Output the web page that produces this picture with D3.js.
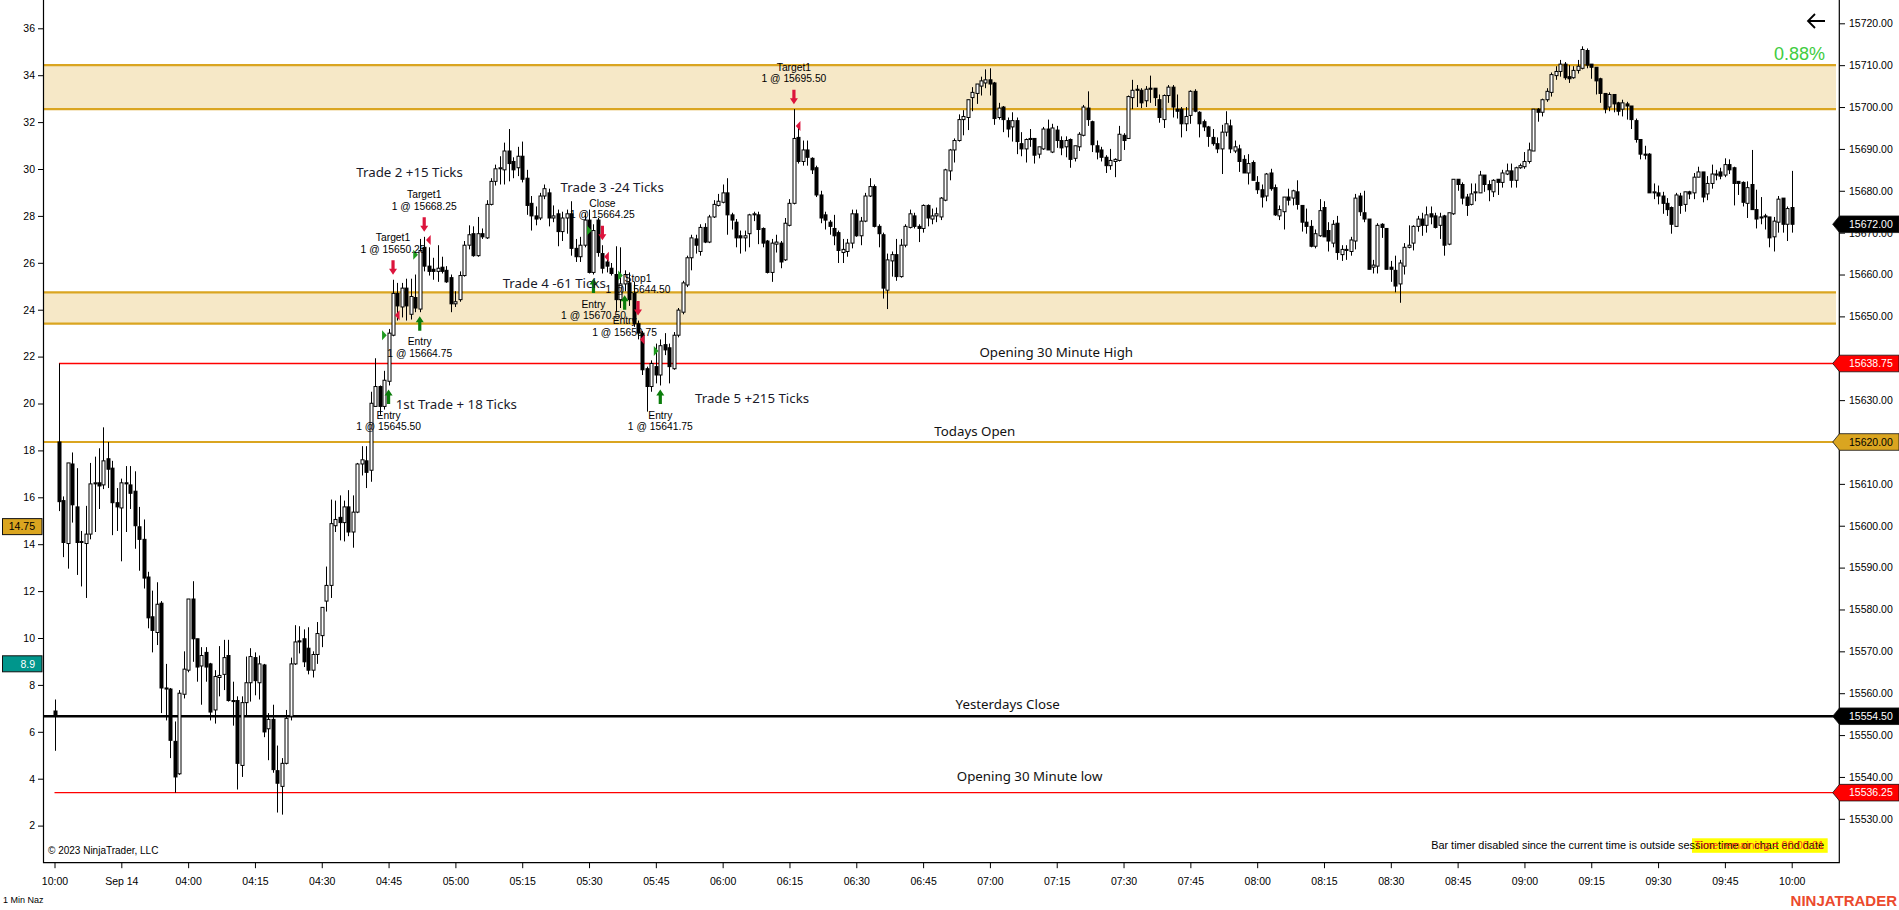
<!DOCTYPE html>
<html><head><meta charset="utf-8">
<script src="https://cdn.jsdelivr.net/npm/d3@7/dist/d3.min.js"></script>
<style>body{margin:0;background:#fff;overflow:hidden}svg{display:block}</style>
</head><body>
<svg id="c" width="1899" height="910"></svg>
<script>
// ---------------- DATA ----------------
const timeLabels = ["10:00","Sep 14","04:00","04:15","04:30","04:45","05:00","05:15","05:30","05:45","06:00","06:15","06:30","06:45","07:00","07:15","07:30","07:45","08:00","08:15","08:30","08:45","09:00","09:15","09:30","09:45","10:00"];
const timeTickBars = [0,15,30,45,60,75,90,105,120,135,150,165,180,195,210,225,240,255,270,285,300,315,330,345,360,375,390];
const priceTicks = [15530,15540,15550,15560,15570,15580,15590,15600,15610,15620,15630,15640,15650,15660,15670,15680,15690,15700,15710,15720];
const leftTicks = [2,4,6,8,10,12,14,16,18,20,22,24,26,28,30,32,34,36];

const opens = [
15555.75,15620,15606,15595.75,15614.75,15604.5,15596.25,15595.75,15598,15610,
15610.25,15609.75,15616,15613.75,15605.5,15604.25,15610.25,15609.75,15608.25,15599.75,
15596.75,15587.75,15578.25,15574.5,15581.5,15561.25,15561,15548.5,15540.75,15559.75,
15565.5,15582.5,15573,15566.5,15569.75,15567,15556,15563.75,15564.5,15569,
15558.25,15558.25,15542.75,15557.75,15562.5,15568.5,15562.5,15566.75,15551.5,15553.75,
15541.5,15537.75,15543.25,15554.5,15567,15572.5,15573,15570.75,15565.5,15569.25,
15573.75,15582,15585.75,15600,15602,15600.75,15604.5,15598.5,15603.25,15614.75,
15615.5,15613.25,15628.5,15633.25,15628.5,15634.5,15645.5,15655.5,15652.25,15656.75,
15650.5,15654.5,15651.75,15666.5,15662,15661.25,15660.75,15661.75,15661,15659.25,
15653,15654,15659.75,15667,15669.75,15664.5,15669.75,15668.75,15676.75,15682.25,
15685.25,15685,15689.5,15687,15685.5,15688.25,15683,15677,15674,15673.5,
15678.75,15679.5,15673.5,15674.5,15670.25,15673.5,15674.5,15666.25,15664.25,15667,
15673,15660.5,15673,15665,15663,15661.5,15660,15654,15657.75,15658,
15655.5,15648.25,15646,15637.5,15633.25,15638,15636,15643.25,15642.5,15637.5,
15645.5,15651,15657.5,15664,15668.5,15665.5,15671.25,15667.75,15673.75,15676.5,
15677.25,15679.5,15674.25,15672.5,15669.25,15668.75,15669.75,15674.25,15674.25,15671,
15668,15660.5,15667.25,15667.5,15663.5,15671.75,15677,15692.75,15687,15689.75,
15687.75,15685.5,15679,15674.25,15672.5,15671,15670,15665.25,15665.5,15667.5,
15674.5,15669.25,15672.75,15678.75,15681,15671.5,15669.5,15656.25,15663.25,15664.75,
15659.5,15667,15671.25,15674,15671.5,15671,15676.5,15673.25,15674,15673.75,
15677.75,15684.75,15689.75,15692,15697,15697.5,15702.25,15703.25,15705,15705.75,
15706.5,15705.75,15697.5,15700,15696.75,15695.25,15696.75,15691.25,15690,15692.5,
15692.5,15688.75,15690,15694.75,15689.25,15694.5,15692,15690.5,15692.25,15687.75,
15690.5,15693.25,15699.75,15696.5,15690.75,15689.75,15688,15686,15687,15687.25,
15693.25,15692.5,15702.25,15704.25,15704,15701.5,15704.5,15704.5,15701.75,15697,
15702.75,15704.75,15699.5,15699.5,15696,15698,15703.75,15698.75,15696.5,15695.25,
15692.75,15691.25,15690,15694,15695.5,15689.5,15690,15687.5,15684.25,15686.75,
15682,15680.25,15678.75,15684.25,15680.75,15674,15675,15678.5,15678.25,15679.75,
15676.5,15672.5,15671.5,15666.75,15669.25,15676,15670.5,15667.5,15672.25,15664.75,
15665.75,15665.5,15668,15678.75,15674.75,15673.25,15661.75,15662,15672,15671,
15661.75,15661,15657.75,15662,15666.5,15667.5,15671.5,15673.25,15671.75,15674.5,
15674,15671.75,15674,15667.25,15674.5,15682.75,15681.5,15678.5,15676.75,15679.5,
15679.5,15683.75,15681.5,15679.75,15682.75,15682,15684,15684.75,15682.5,15685.5,
15685.75,15687,15689.5,15699.5,15698.75,15701.75,15703.5,15707.5,15708.5,15710.25,
15707.25,15707,15708.75,15709.25,15713.5,15710.25,15709.5,15706.75,15703.25,15700,
15703,15701,15699.5,15700.75,15700.25,15696.75,15692.25,15688.75,15688.75,15679.5,
15679.5,15678.75,15677,15676,15671.5,15678.75,15676.75,15679.75,15679.5,15683.25,
15684.5,15679.25,15681.75,15683.75,15684.5,15683.75,15686.25,15685.5,15682.25,15682,
15677,15681.5,15675.5,15673.75,15674,15673.75,15669,15672.5,15678.25,15672,
15676];
const highs = [
15558.5,15638.75,15607,15615,15617.5,15613.75,15598.75,15604.75,15615,15616.5,
15618.5,15623.5,15620,15615.5,15609,15611.25,15614.25,15614.25,15613,15604.5,
15601.5,15589,15584.5,15586.5,15582,15567,15561.25,15553.25,15560.75,15570,
15582.5,15586.75,15573,15571,15571,15567.25,15565.5,15571.25,15572.75,15572.75,
15562.75,15559.25,15559.25,15568.75,15570.75,15569.75,15569,15567,15555.25,15557.25,
15547.5,15544.5,15556,15568.5,15576.25,15576,15575.25,15575.75,15570,15577,
15580.5,15590.25,15606.25,15606,15607.25,15606,15608.5,15607.25,15615,15619,
15619,15632,15640,15633.5,15637,15647,15658.75,15658,15658,15659,
15659,15660,15668.5,15669,15666.5,15664,15667,15664.25,15662,15660,
15656,15660.75,15668,15671.75,15671.5,15673.75,15671,15677.75,15683,15686.25,
15688.25,15691.5,15694.75,15688,15690.5,15691.75,15685,15678.75,15676.25,15679.5,
15681.5,15680.5,15676.5,15675.5,15675,15675.5,15677.5,15668.5,15669,15674.5,
15675.5,15672,15673.5,15667,15664,15662.75,15666.75,15666.5,15661,15660.5,
15658.25,15649,15646.5,15638,15639.5,15643.5,15644.5,15646,15643.5,15646.25,
15652,15658.5,15664.5,15669.5,15669.5,15672,15672.25,15674.25,15677.75,15679.25,
15681.5,15683,15674.75,15673.25,15670.5,15670.5,15674.5,15675,15675,15671.25,
15668.25,15668.5,15669.5,15668,15673.5,15678,15699.5,15695.5,15692,15692,
15688,15686,15680,15675,15673,15674.25,15670.5,15668.5,15668.5,15675.5,
15675.5,15673.75,15679.5,15683,15681.5,15672,15670,15665,15665.5,15668.5,
15668.5,15672,15675.5,15674.75,15672,15676.75,15676.75,15675.75,15676,15678.5,
15685.25,15690,15692.5,15698.25,15699.25,15701.75,15704.75,15705.5,15707.25,15709,
15709.25,15706,15701,15700.25,15697.5,15698.75,15697.5,15694,15692.5,15694.75,
15692.5,15690.5,15695.25,15697,15696,15695.5,15693,15693,15692.5,15690.75,
15694,15700.5,15703.75,15696.75,15692,15690.5,15688.5,15690,15687.75,15695.5,
15693.75,15702.75,15706.5,15705.25,15704.5,15705,15707.5,15704.5,15703,15703,
15705.25,15705.25,15703,15700,15700,15704,15704.25,15699,15697,15695.5,
15694.75,15692.75,15695.75,15699,15697,15692,15691,15688.5,15688.75,15687.25,
15683.5,15681.5,15684.25,15685.25,15681.5,15676.5,15678.5,15680.5,15680.25,15682.5,
15676.5,15675.75,15673,15670.75,15678,15677.5,15672.5,15673,15674,15667,
15667,15669,15679.25,15679.5,15680,15673.25,15663.5,15672.25,15672.25,15671,
15663.25,15664.5,15663.5,15667.5,15671.75,15671.75,15674,15674.75,15676.25,15676.25,
15674.75,15674.75,15674.25,15674.75,15682.75,15682.75,15682,15679.25,15681.75,15681.75,
15684.75,15683.75,15682.5,15682.75,15682.75,15685,15686.5,15686.5,15685.75,15686.5,
15689.25,15691.5,15699.5,15699.75,15702,15704.5,15708.25,15709.75,15711.25,15710.75,
15710,15709.75,15711.25,15714.5,15714,15710.25,15709.5,15707,15703.25,15703.5,
15703,15701.25,15701.75,15701.25,15700.25,15697.25,15692.25,15690.75,15689,15681.75,
15681.25,15679.75,15678.25,15676.25,15679.5,15679.5,15679.75,15680,15684.25,15685.75,
15684.5,15683.5,15686.25,15685,15685.5,15687.75,15687.5,15685.75,15682.25,15682.25,
15682.25,15689.75,15680.25,15678.5,15674.5,15673.75,15673.75,15678.75,15678.25,15676.25,
15684.75];
const lows = [
15546.25,15603.5,15592.5,15589.75,15600.75,15588.25,15585.5,15582.75,15596.75,15598.5,
15604,15608.75,15609,15597.75,15598.75,15591.5,15598.5,15604,15594.5,15589.25,
15585,15575.5,15569.75,15571.5,15555.25,15553.5,15544.5,15536.25,15540.5,15558.75,
15565,15567.5,15562.75,15557.25,15562.75,15553.5,15552.75,15559.25,15560.75,15558,
15552.25,15537,15540,15554.75,15558,15559.5,15558.5,15549.5,15544,15541,
15531.5,15531,15543,15553.5,15566.75,15569.5,15566.25,15564.5,15563.75,15567,
15571,15579.5,15582.75,15598.5,15596.5,15596.25,15597.5,15594.75,15603,15612,
15609,15610.5,15628.5,15626.5,15627.75,15633.5,15645.25,15649,15649.75,15649,
15649.25,15651,15651,15660.75,15659.75,15658.75,15658.25,15660.25,15658,15651,
15652.25,15653.5,15659.5,15666,15664.25,15664.25,15668.5,15668.5,15676.5,15681.25,
15681.5,15681.5,15682.25,15683,15683.5,15682,15674.25,15670.5,15671.75,15673,
15678,15671.5,15672.5,15666.75,15668,15669.75,15664.5,15663,15663,15666.5,
15660.25,15660,15664.25,15660.25,15660.5,15659.75,15651,15652,15656,15652.5,
15647.5,15644.5,15636,15627.25,15632,15634,15633.5,15640.75,15634,15637.25,
15645,15650.5,15657,15661,15665,15664.5,15667.5,15667.5,15673.5,15676.25,
15677,15669.5,15670.75,15666.5,15665,15665.5,15666.5,15672.75,15667.25,15666.5,
15660.25,15658.25,15665.25,15661.5,15663.25,15671.5,15676.75,15686.5,15686,15686,
15684,15678.5,15672.25,15670.75,15669.5,15667,15662.75,15662.75,15664.25,15666.25,
15669,15667,15672.5,15678.5,15671.25,15666.5,15654.25,15651.75,15659.5,15658.5,
15659.25,15666.5,15671,15671,15667.75,15670,15671.5,15672,15672.5,15673,
15677.5,15682.5,15686.75,15691.75,15693.25,15694.5,15699,15700.75,15702.75,15704.5,
15702.75,15695.75,15697,15694,15692.75,15691.75,15688.75,15688.25,15686.75,15690.5,
15686.5,15687.75,15689.75,15689.75,15689,15690.25,15688.5,15688,15685.5,15687,
15689.5,15693,15695.5,15689.25,15687.5,15687,15684.25,15685,15683.25,15687,
15689.75,15692.5,15699.5,15700,15699.75,15700,15701,15700.25,15696.25,15695,
15701,15697.5,15697.25,15692.75,15694.25,15696,15698.75,15692.75,15694.25,15690.5,
15690.75,15689,15684,15693,15689,15689,15684.5,15684.25,15681.5,15682.5,
15679.25,15676,15677.5,15680,15674,15673,15670.75,15676.5,15676.5,15675.5,
15670.25,15669.75,15666.5,15666.25,15669,15669,15665.5,15666.5,15663.5,15663.25,
15663.5,15664.5,15666,15674,15672.5,15661.25,15660.25,15660.25,15668.75,15661.25,
15658.25,15655.75,15653.25,15660,15666.25,15665.75,15670.25,15669.25,15670,15672,
15671,15668.5,15664.5,15667,15674.25,15680,15676.75,15674,15676.5,15677.5,
15679.5,15679.75,15677.5,15678.5,15679,15680.75,15683.75,15680.75,15680.75,15685.25,
15685.25,15686.5,15689.5,15696.5,15697.75,15701.25,15702.5,15706.5,15707.25,15706.5,
15705.75,15706.75,15708,15709,15709.25,15706.75,15703,15701,15698.5,15699,
15698.75,15698,15697.75,15697,15694.75,15691.5,15687.5,15687.5,15679.5,15678,
15676.75,15674.5,15674,15669.75,15671.5,15674.5,15675,15678,15678,15683.25,
15677.25,15677.75,15680.5,15682.5,15682.75,15683.25,15684,15676.5,15679,15676.25,
15673.5,15675.5,15671,15672,15670.75,15666.5,15665.5,15670,15670,15668,
15670];
const closes = [
15554.5,15605.75,15596,15615,15605,15596,15596,15598,15610,15610.25,
15609.5,15615.5,15613.5,15605.5,15604.5,15610.25,15610,15607.75,15600,15596.75,
15587.5,15578,15575,15581.25,15561.25,15561,15548.75,15540,15560,15565.75,
15582.5,15573,15566.25,15569,15566.25,15555.5,15564,15564.25,15568.5,15558.25,
15558,15543.25,15557.75,15562.5,15568.75,15563,15567,15550.75,15553.75,15541.75,
15538.5,15543.25,15554,15567,15572.25,15572.25,15567.5,15565.5,15569.25,15574.25,
15580.5,15585.75,15600.5,15601.5,15600.75,15604.5,15598.5,15603.25,15614.75,15615.75,
15612.75,15629.25,15633.25,15628.5,15634.75,15646,15655.5,15652.5,15656.75,15652.5,
15654.75,15652,15665.75,15662,15660.75,15660.75,15661.5,15660.75,15658.25,15653,
15653.5,15659.75,15667,15669.5,15664.5,15669.75,15669,15676.75,15682.25,15685.25,
15685.5,15689.5,15686.5,15685,15688.25,15682.75,15676.5,15674,15673.25,15678.75,
15680.5,15673.5,15674,15670.25,15673.5,15674.5,15666.25,15664.25,15667,15673,
15660.5,15670.5,15665.25,15661.5,15662,15660.25,15654,15657.75,15660,15654,
15648.25,15646,15637.25,15633.25,15638.75,15636,15643,15642,15638,15645.5,
15651.5,15658,15664,15668.75,15667,15671.25,15667.75,15673.75,15676.75,15677.5,
15679.5,15674.25,15673,15668.75,15668.75,15669.25,15674.25,15674.5,15670.75,15667.5,
15660.5,15667.5,15667.75,15663,15672.25,15677,15692.5,15687,15689.75,15688,
15685,15679,15673.5,15673,15671.5,15669.25,15665.75,15666,15667.5,15674.5,
15669.25,15672.75,15678.75,15681,15671.5,15669.75,15656.75,15663.5,15664.75,15659.5,
15667,15671.5,15674.5,15671.5,15671,15676.5,15673.5,15674,15674.5,15678.25,
15685,15689.75,15692,15697,15697.75,15701.75,15703.5,15705.5,15706.25,15706.5,
15705.5,15697.25,15699.75,15697,15694.75,15696.75,15691.75,15690,15692.25,15692.25,
15688.5,15690.5,15694.75,15689.75,15695,15692,15690.25,15692,15687.5,15690.75,
15693.5,15700,15697,15691,15689.25,15688,15686,15687.25,15687.5,15693.5,
15692,15702.5,15704,15704,15701,15704.25,15704.25,15702.25,15697.5,15702.75,
15704.75,15700,15699,15696,15697.75,15703.75,15699,15696,15695.25,15693,
15691.25,15690,15694,15696,15690,15690.5,15687,15684.25,15686.5,15682.5,
15680.25,15678.5,15684,15680.5,15674.25,15675.5,15678.5,15677.75,15680,15676.75,
15672.5,15671.5,15666.75,15669.75,15675.25,15669,15668,15672,15665.25,15666,
15666,15668.25,15678.25,15675,15673.25,15661.25,15662.25,15671.75,15671.25,15661.25,
15661.25,15657.25,15662.75,15666.5,15667,15671.5,15673.25,15671.75,15674.25,15673.75,
15671.25,15673.75,15667,15674.75,15682.75,15681.5,15678.25,15676.5,15679.25,15679.75,
15683.75,15681.5,15680.25,15682.5,15682,15684.25,15684.75,15682.5,15685.5,15686,
15687,15689.75,15699.5,15698.75,15701.75,15703.75,15707.75,15708.5,15710.25,15707,
15706.75,15708.75,15709.75,15713.75,15710,15709.5,15706.25,15703.25,15699.5,15703,
15700.75,15699,15701,15700.25,15697,15692.25,15688.75,15688.5,15679.5,15679.75,
15678.75,15677,15675.5,15672,15679,15676.5,15679.75,15679.25,15683.25,15684.5,
15678.5,15681.75,15684,15684,15683.5,15686.25,15685,15681.75,15681.75,15677.25,
15680.75,15675.5,15673.25,15673.5,15673.75,15668.75,15672.75,15678,15672,15675.75,
15672];

// supply/demand zones (price ranges)
const zoneLow  = [15699.50, 15648.25];
const zoneHigh = [15710.00, 15655.75];
// key levels
const levelNames  = ["Opening 30 Minute High","Todays Open","Yesterdays Close","Opening 30 Minute low"];
const levelPrices = [15638.75, 15620.00, 15554.50, 15536.25];
// price axis markers
const rightMarkerPrices = [15672.00, 15638.75, 15620.00, 15554.50, 15536.25];
const leftMarkerValues  = [14.75, 8.9];
const leftMarkerLabels  = ["14.75", "8.9"];
// executions
const entryBars   = [75, 82, 121, 128, 136];
const entryPrices = [15645.50, 15664.75, 15670.50, 15659.75, 15641.75];
const exitBars    = [76, 83, 123, 131, 166];
const exitPrices  = [15650.25, 15668.25, 15664.25, 15644.50, 15695.50];
const exitNames   = ["Target1", "Target1", "Close", "Stop1", "Target1"];
// user text notes (anchored at bar / price)
const noteTexts  = ["1st Trade + 18 Ticks","Trade 2 +15 Ticks","Trade 3 -24 Ticks","Trade 4 -61 Ticks","Trade 5 +215 Ticks"];
const noteBars   = [90.2, 79.7, 125.2, 112.2, 156.6];
const notePrices = [15629.0, 15684.4, 15680.8, 15657.9, 15630.4];

// ---------------- STYLE / LAYOUT ----------------
const AX = "'Liberation Sans', Arial, sans-serif";
const UI = "'Noto Sans', 'Open Sans', sans-serif";
const GOLD = "#DAA520";
const plotL = 43.5, plotR = 1839.3, plotB = 862.7;
const levelStyle = [
  {color:"#FF0000", w:1.4, start:1,    labelBar:224.9, gap:6},
  {color:GOLD,      w:2.2, start:null, labelBar:206.6, gap:5.5},
  {color:"#000",    w:2.6, start:null, labelBar:214.0, gap:7},
  {color:"#FF0000", w:1.4, start:0,    labelBar:218.9, gap:12}
];
const rightMarkerStyle = [{bg:"#000",fg:"#fff"},{bg:"#FF0000",fg:"#fff"},{bg:GOLD,fg:"#000"},{bg:"#000",fg:"#fff"},{bg:"#FF0000",fg:"#fff"}];
const leftMarkerStyle = [{bg:GOLD,fg:"#000"},{bg:"#00968C",fg:"#fff"}];

const svg = d3.select("#c");
const xS = d3.scaleLinear().domain([0, 390]).range([54.5, 1791.7]);
const yR = d3.scaleLinear().domain([15519.52, 15725.565]).range([plotB, 0]);
const yL = d3.scaleLinear().domain([0.418, 37.207]).range([plotB, 0]);

// zones
const gz = svg.append("g");
zoneLow.forEach((lo, k) => {
  const y1 = yR(zoneHigh[k]), y2 = yR(lo);
  gz.append("rect").attr("x", plotL).attr("y", y1).attr("width", 1836 - plotL).attr("height", y2 - y1)
    .attr("fill", GOLD).attr("fill-opacity", 0.25);
  [y1, y2].forEach(y => gz.append("line").attr("x1", plotL).attr("x2", 1836).attr("y1", y).attr("y2", y)
    .attr("stroke", GOLD).attr("stroke-width", 2.2));
});

// levels
const gl = svg.append("g");
levelPrices.forEach((p, k) => {
  const s = levelStyle[k], y = yR(p);
  const x0 = s.start === null ? plotL : xS(s.start);
  gl.append("line").attr("x1", x0).attr("x2", 1836).attr("y1", y).attr("y2", y)
    .attr("stroke", s.color).attr("stroke-width", s.w);
  gl.append("text").attr("x", xS(s.labelBar)).attr("y", y - s.gap).attr("text-anchor", "middle")
    .attr("font-family", UI).attr("font-size", 13.3).attr("fill", "#111").text(levelNames[k]);
});

// candles
const idx = d3.range(opens.length);
const gc = svg.append("g");
gc.selectAll("line").data(idx).join("line")
  .attr("x1", i => Math.round(xS(i)) + 0.5).attr("x2", i => Math.round(xS(i)) + 0.5)
  .attr("y1", i => yR(highs[i])).attr("y2", i => yR(lows[i]))
  .attr("stroke", "#000").attr("stroke-width", 1);
gc.selectAll("rect").data(idx).join("rect")
  .attr("x", i => Math.round(xS(i)) - 1).attr("width", 3)
  .attr("y", i => yR(Math.max(opens[i], closes[i])))
  .attr("height", i => Math.max(0.8, Math.abs(yR(opens[i]) - yR(closes[i]))))
  .attr("fill", i => closes[i] > opens[i] ? "#fff" : "#000")
  .attr("stroke", "#000").attr("stroke-width", 1);

// executions
const ge = svg.append("g");
const GREEN = "#0B7D0B", RED = "#DC143C";
function upArrow(cx, t) { return `M${cx},${t}L${cx+4},${t+6}L${cx+1.6},${t+6}L${cx+1.6},${t+14.5}L${cx-1.6},${t+14.5}L${cx-1.6},${t+6}L${cx-4},${t+6}Z`; }
function downArrow(cx, b) { return `M${cx},${b}L${cx+4},${b-6}L${cx+1.6},${b-6}L${cx+1.6},${b-14.5}L${cx-1.6},${b-14.5}L${cx-1.6},${b-6}L${cx-4},${b-6}Z`; }
entryBars.forEach((b, k) => {
  const cx = xS(b), py = yR(entryPrices[k]);
  ge.append("path").attr("d", `M${cx-6.5},${py-5}L${cx-1.8},${py}L${cx-6.5},${py+5}Z`).attr("fill", "#1E9A1E");
  const t = yR(lows[b]) + 4;
  ge.append("path").attr("d", upArrow(cx, t)).attr("fill", GREEN);
  ge.append("text").attr("x", cx).attr("y", t + 14.5 + 11).attr("dy", "0.35em").attr("text-anchor", "middle")
    .attr("font-family", AX).attr("font-size", 10.3).attr("fill", "#000").text("Entry");
  ge.append("text").attr("x", cx).attr("y", t + 14.5 + 22.7).attr("dy", "0.35em").attr("text-anchor", "middle")
    .attr("font-family", AX).attr("font-size", 10.3).attr("fill", "#000").text("1 @ " + d3.format(".2f")(entryPrices[k]));
});
exitBars.forEach((b, k) => {
  const cx = xS(b), py = yR(exitPrices[k]);
  ge.append("path").attr("d", `M${cx+6.5},${py-5}L${cx+1.8},${py}L${cx+6.5},${py+5}Z`).attr("fill", RED);
  const bt = yR(highs[b]) - 5;
  ge.append("path").attr("d", downArrow(cx, bt)).attr("fill", RED);
  const top = bt - 14.5;
  ge.append("text").attr("x", cx).attr("y", top - 22.5).attr("dy", "0.35em").attr("text-anchor", "middle")
    .attr("font-family", AX).attr("font-size", 10.3).attr("fill", "#000").text(exitNames[k]);
  ge.append("text").attr("x", cx).attr("y", top - 11.3).attr("dy", "0.35em").attr("text-anchor", "middle")
    .attr("font-family", AX).attr("font-size", 10.3).attr("fill", "#000").text("1 @ " + d3.format(".2f")(exitPrices[k]));
});

// notes
noteTexts.forEach((t, k) => {
  svg.append("text").attr("x", xS(noteBars[k])).attr("y", yR(notePrices[k])).attr("dy", "0.35em")
    .attr("text-anchor", "middle").attr("font-family", UI).attr("font-size", 13.3).attr("fill", "#1a1a2a").text(t);
});

// axes
const styleAxis = g => { g.attr("font-family", AX).attr("font-size", 10.5).attr("color", "#000"); g.select(".domain").remove(); };
svg.append("g").attr("transform", `translate(${plotL},0)`)
  .call(d3.axisLeft(yL).tickValues(leftTicks).tickSize(5.5).tickPadding(3).tickFormat(d3.format("d")))
  .call(styleAxis);
// price tick labels that sit under a price marker are hidden (as the platform does)
const hiddenUnderMarker = v => rightMarkerPrices.some(p => Math.abs(yR(p) - yR(v)) < 7);
svg.append("g").attr("transform", `translate(${plotR},0)`)
  .call(d3.axisRight(yR).tickValues(priceTicks).tickSize(5.7).tickPadding(4)
    .tickFormat(v => hiddenUnderMarker(v) ? "" : d3.format(".2f")(v)))
  .call(styleAxis);
svg.append("g").attr("transform", `translate(0,${plotB})`)
  .call(d3.axisBottom(xS).tickValues(timeTickBars).tickSize(5.5).tickPadding(9.5).tickFormat((d, i) => timeLabels[i]))
  .call(styleAxis);
// frame
svg.append("path").attr("d", `M${plotL},0V${plotB}H${plotR}V0`).attr("fill", "none").attr("stroke", "#000").attr("stroke-width", 1.2);

// right markers
rightMarkerPrices.forEach((p, k) => {
  const y = yR(p), s = rightMarkerStyle[k];
  svg.append("path").attr("d", `M1832.7,${y}L1839.5,${y-8.3}H1899V${y+8.3}H1839.5Z`)
    .attr("fill", s.bg).attr("stroke", "#111").attr("stroke-width", 0.8);
  svg.append("text").attr("x", 1849).attr("y", y).attr("dy", "0.36em").attr("font-family", AX)
    .attr("font-size", 10.5).attr("fill", s.fg).text(d3.format(".2f")(p));
});
// left markers
leftMarkerValues.forEach((v, k) => {
  const y = yL(v), s = leftMarkerStyle[k];
  svg.append("rect").attr("x", 2.5).attr("y", y - 8).attr("width", 39.5).attr("height", 16)
    .attr("fill", s.bg).attr("stroke", "#111").attr("stroke-width", 1);
  svg.append("text").attr("x", 35).attr("y", y).attr("dy", "0.36em").attr("text-anchor", "end")
    .attr("font-family", AX).attr("font-size", 10.5).attr("fill", s.fg).text(leftMarkerLabels[k]);
});

// misc texts
svg.append("text").attr("x", 1825).attr("y", 59.5).attr("text-anchor", "end").attr("font-family", AX)
  .attr("font-size", 18).attr("fill", "#40CC40").text("0.88%");
svg.append("path").attr("d", "M1825,21H1808M1815,14L1808,21L1815,28").attr("fill", "none")
  .attr("stroke", "#000").attr("stroke-width", 1.8);
svg.append("text").attr("x", 48).attr("y", 853.5).attr("font-family", AX).attr("font-size", 10).attr("fill", "#000")
  .text("© 2023 NinjaTrader, LLC");
svg.append("text").attr("x", 3).attr("y", 903).attr("font-family", AX).attr("font-size", 9).attr("fill", "#000")
  .text("1 Min Naz");
// bar timer (yellow box behind, black message, red timer overlapping as in the reference)
svg.append("rect").attr("x", 1692).attr("y", 838.3).attr("width", 135.7).attr("height", 14.5).attr("fill", "#FFFF00");
svg.append("text").attr("x", 1824).attr("y", 849).attr("text-anchor", "end").attr("font-family", AX)
  .attr("font-size", 10.9).attr("fill", "#000")
  .text("Bar timer disabled since the current time is outside session time or chart end date");
svg.append("text").attr("x", 1824).attr("y", 849).attr("text-anchor", "end").attr("font-family", AX)
  .attr("font-size", 10.9).attr("fill", "#FF2020").attr("fill-opacity", 0.85)
  .text("Time remaining = 00:00:01");
svg.append("text").attr("x", 1897).attr("y", 905.5).attr("text-anchor", "end").attr("font-family", AX)
  .attr("font-size", 15).attr("font-weight", "bold").attr("fill", "#EB4A2E").text("NINJATRADER");
</script>
</body></html>
